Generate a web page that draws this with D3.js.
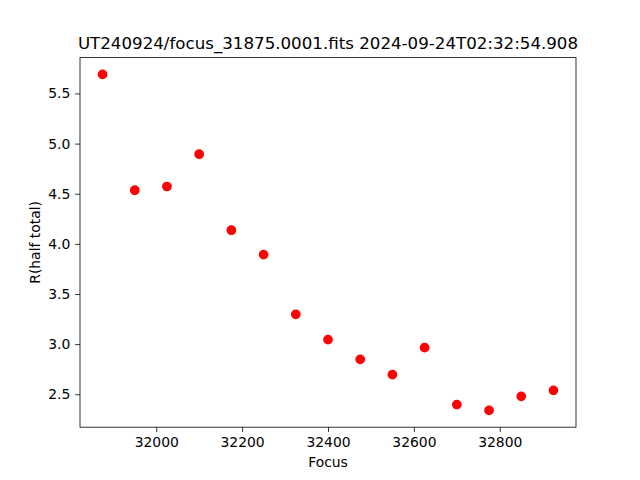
<!DOCTYPE html>
<html>
<head>
<meta charset="utf-8">
<script src="https://cdn.jsdelivr.net/npm/d3@7"></script>
<style>
html,body{margin:0;padding:0;background:#fff;}
svg{display:block;font-family:"DejaVu Sans",sans-serif;}
</style>
</head>
<body>
<svg id="chart" width="640" height="480"></svg>
<script>
const titleText = "UT240924/focus_31875.0001.fits 2024-09-24T02:32:54.908";
const xLabel = "Focus";
const yLabel = "R(half total)";
const focus = [31875, 31950, 32025, 32100, 32175, 32250, 32325, 32400, 32475, 32550, 32625, 32700, 32775, 32850, 32925];
const rHalf = [5.690, 4.535, 4.572, 4.894, 4.136, 3.893, 3.297, 3.045, 2.848, 2.696, 2.965, 2.396, 2.339, 2.479, 2.539];
const xTicks = [32000, 32200, 32400, 32600, 32800];
const yTicks = [2.5, 3.0, 3.5, 4.0, 4.5, 5.0, 5.5];

(function(){
const W = 640, H = 480;
const mL = 80, mR = 576, mT = 57.6, mB = 427.2;
const svg = d3.select("#chart");
svg.append("rect").attr("width", W).attr("height", H).attr("fill", "#fff");

function pad(ext){ const r = ext[1]-ext[0]; return [ext[0]-0.05*r, ext[1]+0.05*r]; }
const x = d3.scaleLinear().domain(pad(d3.extent(focus))).range([mL, mR]);
const y = d3.scaleLinear().domain(pad(d3.extent(rHalf))).range([mB, mT]);

const xAxis = d3.axisBottom(x).tickValues(xTicks).tickFormat(d3.format("d")).tickSize(4.86).tickPadding(4.86);
const yAxis = d3.axisLeft(y).tickValues(yTicks).tickFormat(d3.format(".1f")).tickSize(4.86).tickPadding(4.86);

const gx = svg.append("g").attr("transform", `translate(0,${mB})`).call(xAxis);
const gy = svg.append("g").attr("transform", `translate(${mL},0)`).call(yAxis);
[gx, gy].forEach(g => {
  g.select(".domain").remove();
  g.selectAll(".tick line").attr("stroke", "#000").attr("stroke-width", 0.8);
  g.selectAll(".tick text").attr("fill", "#000").style("font-size", "13.9px").style("font-family", "DejaVu Sans");
});

svg.append("g").selectAll("circle").data(focus).join("circle")
  .attr("cx", (d) => x(d))
  .attr("cy", (d, i) => y(rHalf[i]))
  .attr("r", 4.17)
  .attr("fill", "#ff0000")
  .attr("stroke", "#ff0000")
  .attr("stroke-width", 1.39);

svg.append("rect").attr("x", mL).attr("y", mT).attr("width", mR-mL).attr("height", mB-mT)
  .attr("fill", "none").attr("stroke", "#000").attr("stroke-width", 0.8);

svg.append("text").attr("x", (mL+mR)/2).attr("y", mT - 8.33)
  .attr("text-anchor", "middle").style("font-size", "16.67px").attr("fill", "#000").text(titleText);

svg.append("text").attr("x", (mL+mR)/2).attr("y", 467)
  .attr("text-anchor", "middle").style("font-size", "13.9px").attr("fill", "#000").text(xLabel);

svg.append("text").attr("transform", `translate(39.5,${(mT+mB)/2}) rotate(-90)`)
  .attr("text-anchor", "middle").style("font-size", "13.9px").attr("fill", "#000").text(yLabel);
})();
</script>
</body>
</html>
